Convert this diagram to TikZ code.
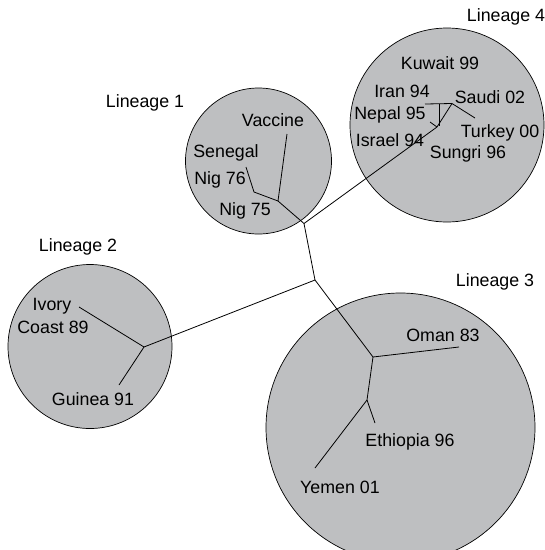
\documentclass[tikz,border=0pt]{standalone}
\usepackage{fontspec}
\setmainfont{Liberation Sans}
\definecolor{circfill}{RGB}{190,191,193}
\begin{document}
\begin{tikzpicture}[x=1pt,y=-1pt,
  lineage/.style={circle,draw=black,fill=circfill,line width=0.7pt,inner sep=0pt},
  lbl/.style={inner sep=0pt,font=\fontsize{17.8}{20}\selectfont},
  branch/.style={line width=0.8pt}]
\useasboundingbox (0,0) rectangle (545,550);
% circles
\node[lineage,minimum size=146pt] (c1) at (258.5,161) {};
\node[lineage,minimum size=164pt] (c2) at (90,346.5) {};
\node[lineage,minimum size=269pt] (c3) at (400.5,427.5) {};
\node[lineage,minimum size=194pt] (c4) at (447,125) {};
% lineage titles
\node[lbl] (t1) at (145,103) {Lineage 1};
\node[lbl] (t2) at (78,247) {Lineage 2};
\node[lbl] (t3) at (495,282) {Lineage 3};
\node[lbl] (t4) at (506,17) {Lineage 4};
% internal nodes
\coordinate (B) at (304,223.5);
\coordinate (C) at (315,280);
\coordinate (L1) at (278,201);
\coordinate (L1a) at (254,192);
\coordinate (L2) at (144,347);
\coordinate (L3) at (373,357);
\coordinate (L3a) at (367,400);
\coordinate (L4) at (437,127);
\coordinate (L4a) at (452,103.5);
% leaf ends
\coordinate (vac) at (287,134);
\coordinate (sen) at (246,167);
\coordinate (ivo) at (79,307);
\coordinate (gui) at (119,385);
\coordinate (oma) at (459,347);
\coordinate (eth) at (375,423);
\coordinate (yem) at (315,468);
\coordinate (kuw) at (425,104);
\coordinate (ira) at (439,104);
\coordinate (nep) at (430,122);
\coordinate (tur) at (475,118);
% backbone
\draw[branch] (L1) -- (B) -- (C) -- (L2);
\draw[branch] (B) -- (L4);
\draw[branch] (C) -- (L3);
% lineage 1
\draw[branch] (L1) -- (vac);
\draw[branch] (L1) -- (L1a) -- (sen);
% lineage 2
\draw[branch] (L2) -- (ivo);
\draw[branch] (L2) -- (gui);
% lineage 3
\draw[branch] (L3) -- (oma);
\draw[branch] (L3) -- (L3a) -- (eth);
\draw[branch] (L3a) -- (yem);
% lineage 4
\draw[branch] (L4) -- (L4a) -- (tur);
\draw[branch] (L4a) -- (kuw);
\draw[branch] (ira) -- (439,126);
\draw[branch] (L4) -- (nep);
% leaf labels
\node[lbl] (nvac) at (273,120) {Vaccine};
\node[lbl] (nsen) at (226,153) {Senegal};
\node[lbl] (nn76) at (220,180) {Nig 76};
\node[lbl] (nn75) at (245,211) {Nig 75};
\node[lbl] (nivo) at (52,306) {Ivory};
\node[lbl] (ncoa) at (53,327) {Coast 89};
\node[lbl] (ngui) at (93,399) {Guinea 91};
\node[lbl] (noma) at (443,335) {Oman 83};
\node[lbl] (neth) at (410,442) {Ethiopia 96};
\node[lbl] (nyem) at (340,487) {Yemen 01};
\node[lbl] (nkuw) at (440,63) {Kuwait 99};
\node[lbl] (nira) at (402,91) {Iran 94};
\node[lbl] (nsau) at (490,97) {Saudi 02};
\node[lbl] (nnep) at (390,115) {Nepal 95};
\node[lbl] (ntur) at (500,133) {Turkey 00};
\node[lbl] (nisr) at (390,140) {Israel 94};
\node[lbl] (nsun) at (468,154) {Sungri 96};
\end{tikzpicture}
\end{document}
